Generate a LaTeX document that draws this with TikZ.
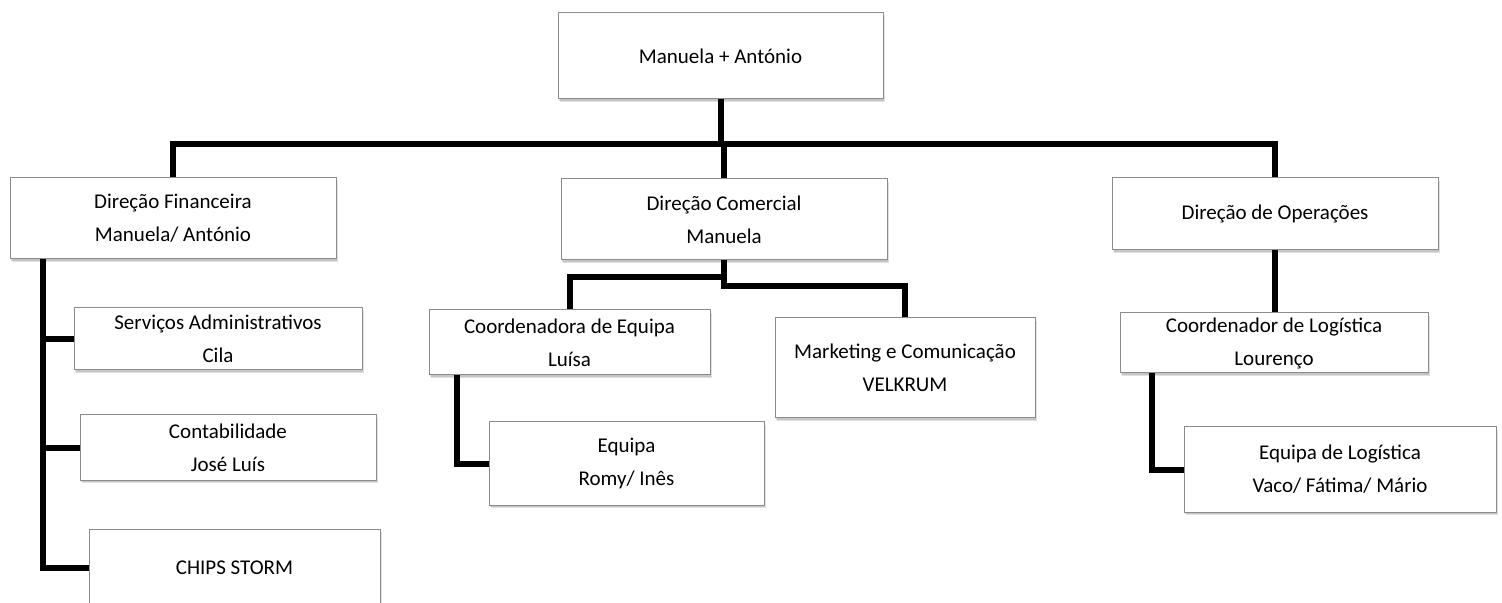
\documentclass[tikz,border=0pt]{standalone}
\usepackage{fontspec}
\setmainfont{Carlito}
\usepackage{tikz}
\usetikzlibrary{shapes, arrows, positioning, shadows}
\tikzstyle{obox} = [rectangle, draw=black!45, line width=0.5pt, fill=white, align=center, inner sep=0pt,
  font=\fontsize{10.5}{16.5}\selectfont,
  drop shadow={shadow xshift=1pt, shadow yshift=-1.6pt, fill=black, opacity=0.12},
  drop shadow={shadow xshift=0.6pt, shadow yshift=-1pt, fill=black, opacity=0.12}]
\tikzstyle{line} = [draw, line width=3pt]

\begin{document}
\begin{tikzpicture}[x=0.5pt, y=-0.5pt]
				\useasboundingbox (0,0) rectangle (1502,603);
				\node [obox, minimum width=162.5pt, minimum height=43pt] (top) at (720.5,56) {Manuela + António};
				\node [obox, minimum width=163pt, minimum height=40.5pt] (fin) at (173,218.5) {Direção Financeira\\Manuela/ António};
				\node [obox, minimum width=163pt, minimum height=40.5pt] (com) at (724,219.5) {Direção Comercial\\Manuela};
				\node [obox, minimum width=163pt, minimum height=36pt] (ops) at (1275,214) {Direção de Operações};
				\node [obox, minimum width=144pt, minimum height=31pt] (serv) at (218,339) {Serviços Administrativos\\Cila};
				\node [obox, minimum width=148pt, minimum height=32.5pt] (cont) at (228,447.5) {Contabilidade\\José Luís};
				\node [obox, minimum width=145.5pt, minimum height=38.5pt] (chips) at (234.5,567.5) {CHIPS STORM};
				\node [obox, minimum width=140.5pt, minimum height=32.5pt] (coord) at (569.5,342.5) {Coordenadora de Equipa\\Luísa};
				\node [obox, minimum width=130pt, minimum height=50pt] (mkt) at (905,368) {Marketing e Comunicação\\VELKRUM};
				\node [obox, minimum width=137.5pt, minimum height=41.5pt] (equipa) at (626.5,463.5) {Equipa\\Romy/ Inês};
				\node [obox, minimum width=154pt, minimum height=30pt] (clog) at (1274,343) {Coordenador de Logística\\Lourenço};
				\node [obox, minimum width=156pt, minimum height=42.5pt] (elog) at (1340,469.5) {Equipa de Logística\\Vaco/ Fátima/ Mário};

				\coordinate (bar) at (720.5,144);
				\path [line] (top.south) -- (bar);
				\path [line] (fin.north) |- (bar) -| (ops.north);
				\path [line] (com.north) |- (bar);
				\path [line] (fin.south west) ++(33,0) coordinate (fspine) -- (fspine |- chips.west) -- (chips.west);
				\path [line] (fspine |- serv.west) -- (serv.west);
				\path [line] (fspine |- cont.west) -- (cont.west);
				\path [line] (coord.north) -- ++(0,-32) -| (com.south);
				\path [line] (mkt.north) -- ++(0,-31) -| (com.south);
				\path [line] (coord.south west) ++(28,0) |- (equipa.west);
				\path [line] (ops.south) -- (ops.south |- clog.north);
				\path [line] (clog.south west) ++(32,0) |- (elog.west);
			\end{tikzpicture}
\end{document}
